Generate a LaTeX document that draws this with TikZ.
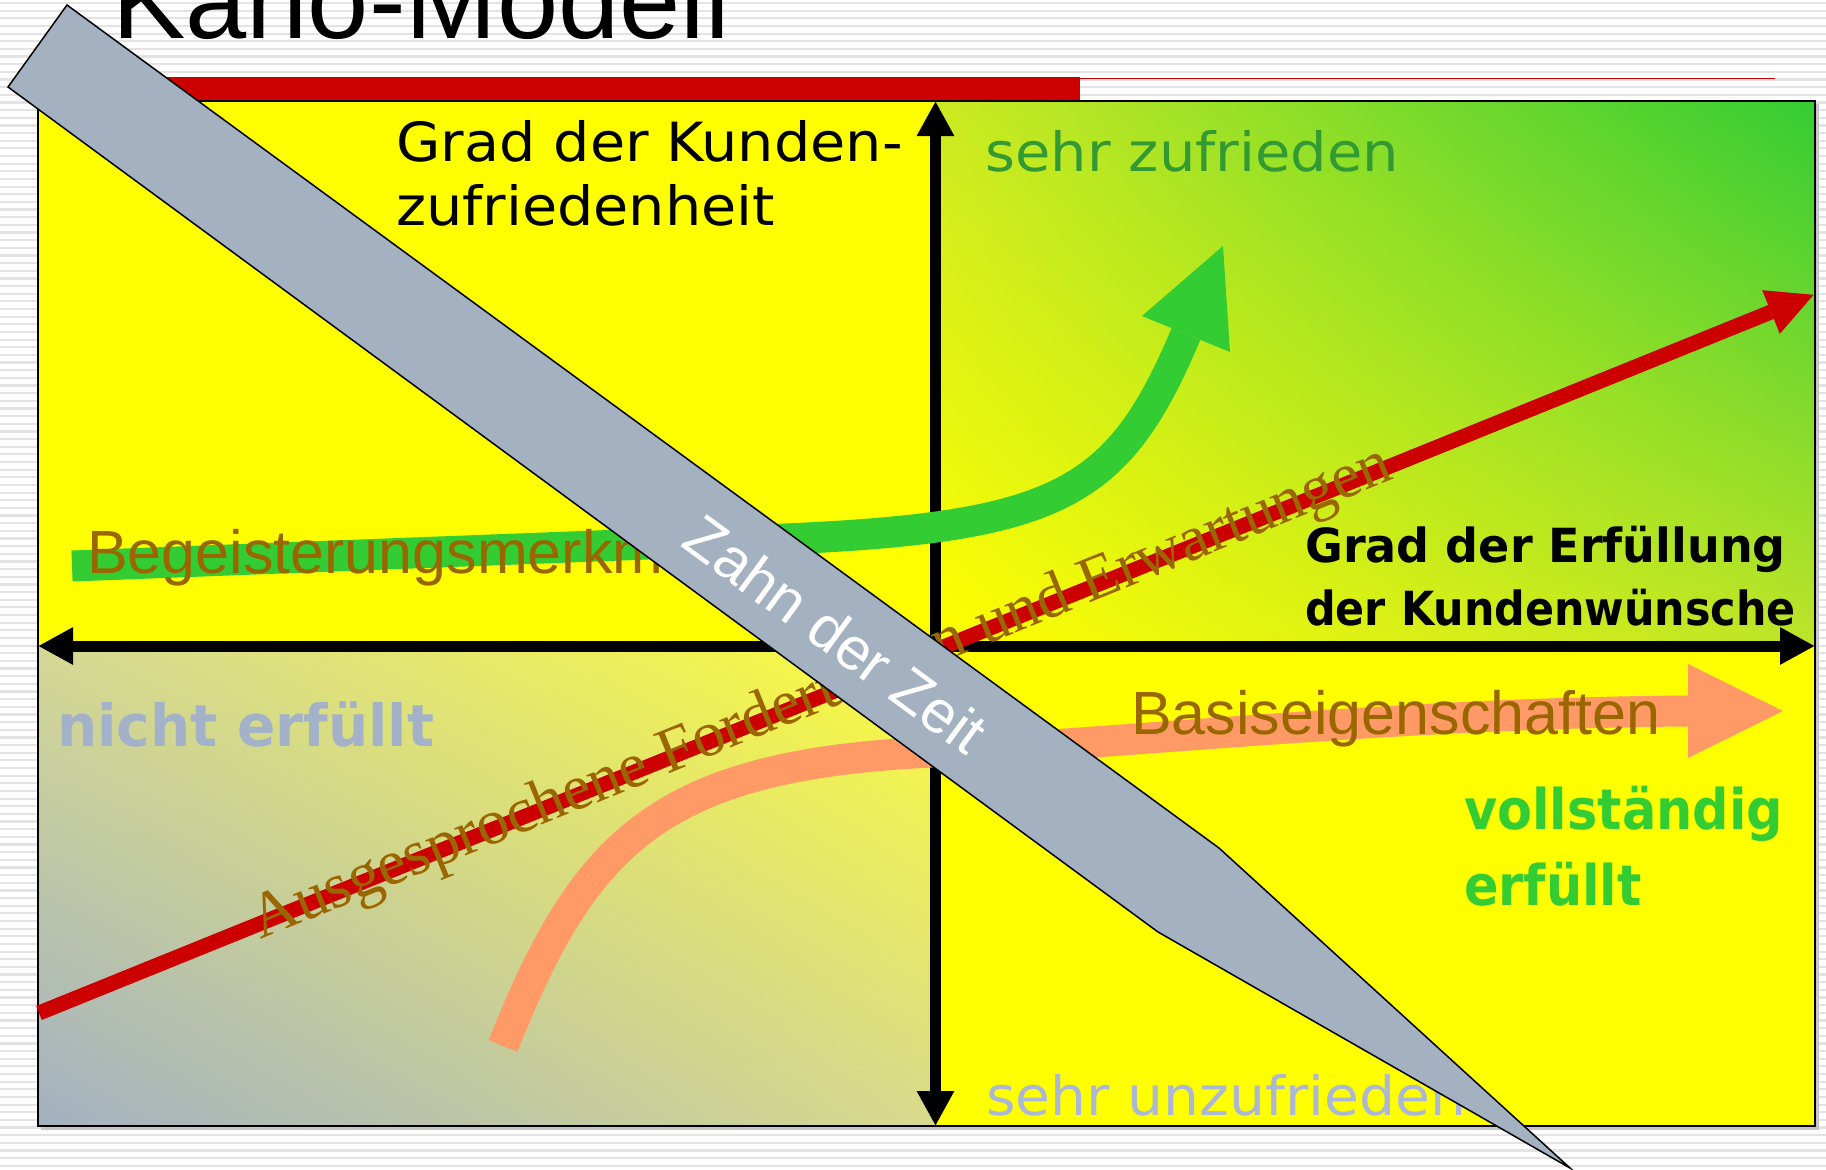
\documentclass[tikz,border=0pt]{standalone}
\usepackage{fontspec}
\usepackage{graphicx}
\setmainfont{Liberation Sans}
\newfontfamily\verdanalike{DejaVu Sans}
\newfontfamily\comiclike{DejaVu Sans}
\newfontfamily\timeslike{Liberation Serif}
\usetikzlibrary{arrows.meta,shadings}
\definecolor{kyellow}{HTML}{FFFF00}
\definecolor{kgreen}{HTML}{33CC33}
\definecolor{kred}{HTML}{CC0000}
\definecolor{korange}{HTML}{FF9966}
\definecolor{kbrown}{HTML}{996600}
\definecolor{kblade}{HTML}{A3B1C0}
\definecolor{kpale}{HTML}{A4B2C9}
\definecolor{kpaleb}{HTML}{ABB7D6}
\definecolor{kdkgreen}{HTML}{339933}
\definecolor{kstripe}{HTML}{E3E3E3}
\definecolor{kgb}{HTML}{A3B1C1}
\definecolor{kyl}{HTML}{FCFC3A}
\definecolor{kmidA}{HTML}{D4D894}
\definecolor{kmidB}{HTML}{D8DA8C}
\definecolor{kygA}{HTML}{CCEA22}
\definecolor{kygB}{HTML}{BEE428}
\tikzset{
  bgstripe/.style={draw=kstripe, line width=2.2},
  axisline/.style={line width=11, draw=black,
    {Triangle[length=35pt,width=35pt]}-{Triangle[length=35pt,width=35pt]}},
  band/.style={line width=31, line cap=butt},
  lbl/.style={inner sep=0, anchor=base west},
  verd/.style={font=\verdanalike\fontsize{54}{64}\selectfont},
  comic/.style={font={\comiclike\bfseries\fontsize{#1}{#1}\selectfont}},
  brown/.style={text=kbrown, font=\fontsize{61}{61}\selectfont},
}
\begin{document}
\begin{tikzpicture}[x=1pt,y=-1pt]
\useasboundingbox (0,0) rectangle (1826,1170);
\clip (0,0) rectangle (1826,1170);
\fill[white] (0,0) rectangle (1826,1170);
\foreach \k in {0,...,153} \draw[bgstripe] (0,{7.65*\k+3}) -- (1826,{7.65*\k+3});

% title
\node[lbl, font=\fontsize{110}{110}\selectfont] (title) at (112,38) {Kano-Modell};

% red title bar
\fill[kred] (38,77) rectangle (1080,100);
\coordinate (rl1) at (1080,78.7);
\coordinate (rl2) at (1775,78.7);
\draw[kred, line width=1.4] (rl1) -- (rl2);

% shadow
\draw[gray!45, line width=3] (41,1128.5) -- (1817.5,1128.5) -- (1817.5,104);

% quadrants
\fill[kyellow] (38,101) rectangle (935.5,646);
\shade[lower left=kyellow, upper right=kgreen, upper left=kygA, lower right=kygB] (935.5,101) rectangle (1815,646);
\shade[lower left=kgb, upper right=kyl, upper left=kmidA, lower right=kmidB] (38,646) rectangle (935.5,1126);
\fill[kyellow] (935.5,646) rectangle (1815,1126);
\draw[line width=2] (38,101) rectangle (1815,1126);

% axes
\coordinate (axL) at (38,646);
\coordinate (axR) at (1815,646);
\coordinate (axT) at (935.5,101);
\coordinate (axB) at (935.5,1126);
\draw[axisline] (axL) -- (axR);
\draw[axisline] (axB) -- (axT);

% orange curve (Basiseigenschaften)
\coordinate (oS) at (503,1046);
\coordinate (oM) at (932,752);
\coordinate (oE) at (1688,711);
\coordinate (oT) at (1783,711);
\coordinate (oU) at (1688,664);
\coordinate (oD) at (1688,758);
\draw[band, korange] (oS) .. controls (585,840) and (660,765) .. (oM)
   .. controls (1150,741.5) and (1400,713) .. (oE);
\fill[korange] (oU) -- (oT) -- (oD) -- cycle;

% green curve (Begeisterungsmerkmale)
\coordinate (gS) at (72,566);
\coordinate (gK) at (700,542);
\coordinate (gB) at (1186,334);
\coordinate (gT) at (1223,246);
\coordinate (gL) at (1142,316);
\coordinate (gR) at (1230,352);
\draw[band, kgreen] (gS) -- (gK) .. controls (1050,532) and (1112,509) .. (gB);
\fill[kgreen] (gL) -- (gT) -- (gR) -- cycle;

% red line
\coordinate (rS) at (39,1013);
\coordinate (rB) at (1771,312);
\coordinate (rT) at (1813.6,294.8);
\coordinate (rU) at (1762.2,290.2);
\coordinate (rD) at (1779.8,333.8);
\draw[kred, line width=15] (rS) -- (rB);
\fill[kred] (rU) -- (rT) -- (rD) -- cycle;

% labels on curves
\node[lbl, brown] (begeist) at (87,573) {Begeisterungsmerkmale};
\node[lbl, brown] (basis) at (1131,734) {Basiseigenschaften};
\node[inner sep=0, anchor=center, rotate=22.1, text=kbrown,
      font=\timeslike\fontsize{64}{64}\selectfont] (ausg) at (822,695)
      {Ausgesprochene Forderungen und Erwartungen};

% axis labels
\node[lbl, verd] (grad1) at (396,161) {\scalebox{1.06}[1]{Grad der Kunden-}};
\node[lbl, verd] (grad2) at (396,225) {\scalebox{1.06}[1]{zufriedenheit}};
\node[lbl, verd, text=kdkgreen] (sehrz) at (985,171) {\scalebox{1.065}[1]{sehr zufrieden}};
\node[lbl, verd, text=kpaleb] (sehru) at (986,1115) {\scalebox{1.05}[1]{sehr unzufrieden}};

\node[lbl, comic=47] (erf1) at (1305,562) {\scalebox{0.98}[1]{Grad der Erfüllung}};
\node[lbl, comic=47] (erf2) at (1305,625) {\scalebox{0.912}[1]{der Kundenwünsche}};
\node[lbl, comic=56, text=kgreen] (voll1) at (1464,829) {\scalebox{0.91}[1]{vollständig}};
\node[lbl, comic=56, text=kgreen] (voll2) at (1464,905) {\scalebox{0.91}[1]{erfüllt}};
\node[lbl, comic=58, text=kpale] (nicht) at (57,746) {\scalebox{0.975}[1]{nicht erfüllt}};

% blade "Zahn der Zeit"
\coordinate (z1) at (67,5);
\coordinate (z2) at (1219,848);
\coordinate (z3) at (1570,1168);
\coordinate (z4) at (1158,932);
\coordinate (z5) at (8,87);
\draw[fill=kblade, line width=1.5, line join=miter] (z1) -- (z2) -- (z3) -- (z4) -- (z5) -- cycle;
\node[inner sep=0, anchor=center, rotate=-36.3, text=white,
      font=\fontsize{60}{60}\selectfont] (zahn) at (836,634) {Zahn der Zeit};
\end{tikzpicture}
\end{document}
